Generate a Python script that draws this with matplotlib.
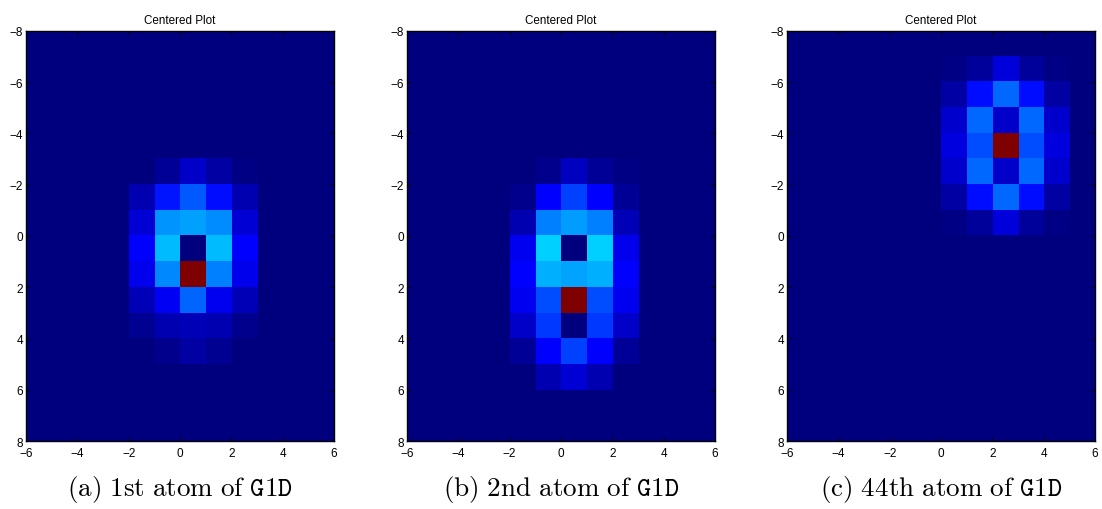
import matplotlib
matplotlib.use("Agg")
import matplotlib.pyplot as plt
import numpy as np

plt.rcParams['font.family'] = ['Liberation Sans', 'DejaVu Sans']
plt.rcParams['mathtext.fontset'] = 'cm'

# grid extent: x in [-6, 6], y in [-8, 8], one unit per cell
x_range = (-6, 6)
y_range = (-8, 8)

# atom values, rows run from y=-8 (top) to y=8, columns from x=-6 to x=6
atom_1 = np.array([
    [0, 0, 0, 0, 0, 0, 0, 0, 0, 0, 0, 0],
    [0, 0, 0, 0, 0, 0, 0, 0, 0, 0, 0, 0],
    [0, 0, 0, 0, 0, 0, 0, 0, 0, 0, 0, 0],
    [0, 0, 0, 0, 0, 0, 0, 0, 0, 0, 0, 0],
    [0, 0, 0, 0, 0, 0, 0, 0, 0, 0, 0, 0],
    [0, 0, 0, 0, 0.003, 0.022, 0.066, 0.033, 0.005, 0, 0, 0],
    [0, 0, 0, 0, 0.044, 0.145, 0.212, 0.140, 0.044, 0, 0, 0],
    [0, 0, 0, 0, 0.077, 0.270, 0.282, 0.262, 0.077, 0, 0, 0],
    [0, 0, 0, 0, 0.110, 0.312, 0.000, 0.312, 0.110, 0, 0, 0],
    [0, 0, 0, 0, 0.095, 0.260, 1.000, 0.250, 0.095, 0, 0, 0],
    [0, 0, 0, 0, 0.048, 0.103, 0.225, 0.100, 0.048, 0, 0, 0],
    [0, 0, 0, 0, 0.018, 0.044, 0.048, 0.044, 0.015, 0, 0, 0],
    [0, 0, 0, 0, 0.002, 0.015, 0.033, 0.018, 0.002, 0, 0, 0],
    [0, 0, 0, 0, 0, 0, 0, 0, 0, 0, 0, 0],
    [0, 0, 0, 0, 0, 0, 0, 0, 0, 0, 0, 0],
    [0, 0, 0, 0, 0, 0, 0, 0, 0, 0, 0, 0],
])

atom_2 = np.array([
    [0, 0, 0, 0, 0, 0, 0, 0, 0, 0, 0, 0],
    [0, 0, 0, 0, 0, 0, 0, 0, 0, 0, 0, 0],
    [0, 0, 0, 0, 0, 0, 0, 0, 0, 0, 0, 0],
    [0, 0, 0, 0, 0, 0, 0, 0, 0, 0, 0, 0],
    [0, 0, 0, 0, 0, 0, 0, 0, 0, 0, 0, 0],
    [0, 0, 0, 0, 0.003, 0.015, 0.055, 0.022, 0.006, 0, 0, 0],
    [0, 0, 0, 0, 0.015, 0.115, 0.188, 0.115, 0.022, 0, 0, 0],
    [0, 0, 0, 0, 0.044, 0.250, 0.280, 0.250, 0.048, 0, 0, 0],
    [0, 0, 0, 0, 0.100, 0.330, 0.000, 0.330, 0.095, 0, 0, 0],
    [0, 0, 0, 0, 0.110, 0.300, 0.287, 0.300, 0.110, 0, 0, 0],
    [0, 0, 0, 0, 0.100, 0.200, 1.000, 0.200, 0.100, 0, 0, 0],
    [0, 0, 0, 0, 0.066, 0.180, 0.000, 0.180, 0.066, 0, 0, 0],
    [0, 0, 0, 0, 0.022, 0.115, 0.188, 0.115, 0.022, 0, 0, 0],
    [0, 0, 0, 0, 0.003, 0.044, 0.077, 0.044, 0.003, 0, 0, 0],
    [0, 0, 0, 0, 0, 0, 0, 0, 0, 0, 0, 0],
    [0, 0, 0, 0, 0, 0, 0, 0, 0, 0, 0, 0],
])

atom_44 = np.array([
    [0, 0, 0, 0, 0, 0, 0, 0, 0, 0, 0, 0],
    [0, 0, 0, 0, 0, 0, 0.006, 0.026, 0.080, 0.026, 0.006, 0],
    [0, 0, 0, 0, 0, 0, 0.033, 0.140, 0.230, 0.140, 0.033, 0],
    [0, 0, 0, 0, 0, 0, 0.070, 0.230, 0.066, 0.230, 0.070, 0],
    [0, 0, 0, 0, 0, 0, 0.084, 0.200, 1.000, 0.200, 0.084, 0],
    [0, 0, 0, 0, 0, 0, 0.070, 0.230, 0.066, 0.230, 0.070, 0],
    [0, 0, 0, 0, 0, 0, 0.033, 0.140, 0.230, 0.140, 0.033, 0],
    [0, 0, 0, 0, 0, 0, 0.006, 0.026, 0.080, 0.026, 0.006, 0],
    [0, 0, 0, 0, 0, 0, 0, 0, 0, 0, 0, 0],
    [0, 0, 0, 0, 0, 0, 0, 0, 0, 0, 0, 0],
    [0, 0, 0, 0, 0, 0, 0, 0, 0, 0, 0, 0],
    [0, 0, 0, 0, 0, 0, 0, 0, 0, 0, 0, 0],
    [0, 0, 0, 0, 0, 0, 0, 0, 0, 0, 0, 0],
    [0, 0, 0, 0, 0, 0, 0, 0, 0, 0, 0, 0],
    [0, 0, 0, 0, 0, 0, 0, 0, 0, 0, 0, 0],
    [0, 0, 0, 0, 0, 0, 0, 0, 0, 0, 0, 0],
])

atoms = [atom_1, atom_2, atom_44]
captions = [r'$\mathrm{(a)\ 1st\ atom\ of\ }\mathtt{G1D}$',
            r'$\mathrm{(b)\ 2nd\ atom\ of\ }\mathtt{G1D}$',
            r'$\mathrm{(c)\ 44th\ atom\ of\ }\mathtt{G1D}$']

fig = plt.figure(figsize=(11.02, 5.10), dpi=100)
lefts = [0.0236, 0.3693, 0.7142]
width, height, bottom = 0.2795, 0.804, 0.1333

for left, data, cap in zip(lefts, atoms, captions):
    ax = fig.add_axes([left, bottom, width, height])
    ax.imshow(data, cmap='jet', vmin=0, vmax=1, interpolation='nearest',
              extent=(x_range[0], x_range[1], y_range[1], y_range[0]),
              aspect='auto')
    ax.set_xlim(*x_range)
    ax.set_ylim(y_range[1], y_range[0])
    ax.set_xticks(np.arange(-6, 7, 2))
    ax.set_yticks(np.arange(-8, 9, 2))
    ax.tick_params(direction='in', top=True, right=True, labelsize=8.5,
                   length=3, width=0.6, pad=2)
    ax.tick_params(axis='x', pad=4)
    for s in ax.spines.values():
        s.set_linewidth(1.0)
    ax.set_title('Centered Plot', fontsize=8.4, pad=6)
    fig.text(left + width / 2, 0.04, cap, ha='center', va='center', fontsize=19.5)

fig.savefig('out.png', dpi=100)
